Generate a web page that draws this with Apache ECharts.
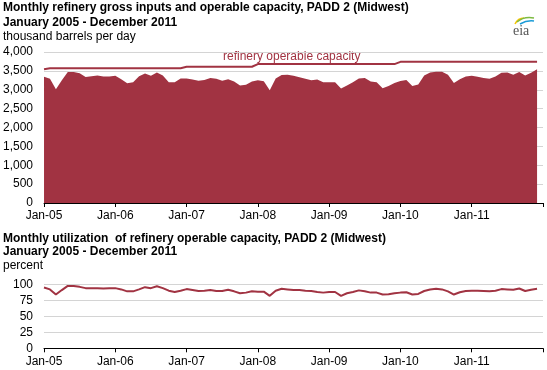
<!DOCTYPE html>
<html>
<head>
<meta charset="utf-8">
<script src="https://cdn.jsdelivr.net/npm/echarts@6/dist/echarts.min.js"></script>
<style>html,body{margin:0;padding:0;background:#fff;}#c{width:547px;height:370px;}</style>
</head>
<body>
<div id="c"></div>
<script>
// Month categories Jan-05 .. Jan-12 (Jan-12 is the axis end only)
const years = ['05','06','07','08','09','10','11'];
const months = [];
years.forEach(y => { for (let m = 0; m < 12; m++) months.push(['Jan','Feb','Mar','Apr','May','Jun','Jul','Aug','Sep','Oct','Nov','Dec'][m] + '-' + y); });
months.push('Jan-12');

// thousand barrels per day
const grossInputs = [
  3346,3290,3010,3250,3470,3470,3440,3340,3360,3380,3350,3350,
  3370,3280,3170,3200,3360,3430,3370,3460,3380,3200,3200,3300,
  3300,3270,3240,3260,3310,3290,3240,3280,3220,3110,3130,3220,
  3250,3225,2990,3300,3390,3400,3370,3330,3290,3250,3270,3200,
  3200,3200,3030,3110,3200,3300,3310,3220,3200,3040,3100,3180,
  3230,3260,3100,3140,3380,3460,3480,3480,3400,3180,3280,3350,
  3370,3345,3310,3290,3350,3450,3460,3400,3470,3380,3450,3540
];
const operableCapacity = [
  3545,3570,3570,3570,3570,3570,3570,3570,3570,3570,3570,3570,
  3570,3570,3570,3570,3570,3570,3570,3570,3570,3570,3570,3570,
  3610,3610,3610,3610,3610,3610,3610,3610,3610,3610,3610,3610,
  3680,3680,3680,3680,3680,3680,3680,3680,3680,3680,3680,3680,
  3680,3680,3680,3680,3680,3680,3680,3680,3680,3680,3680,3680,
  3740,3740,3740,3740,3740,3740,3740,3740,3740,3740,3740,3740,
  3740,3740,3740,3740,3740,3740,3740,3740,3740,3740,3740,3740
];
// percent
const utilization = [
  95,92,84,91,97.5,97.5,96,94,94,94,93.5,94,
  94,92,89,89,92,95.5,94,97,94,90,88,90,
  92.5,91,89.5,90,91,89.5,89.5,91.5,89,86,87,89,
  88.5,88.5,82,90,93,92,91,91,90,89.5,88,87,
  88,88,82,86,88,90.5,89,87,87,84,84.5,86,
  87,87.5,84,85,89.5,92,93,92,89,84,87.5,89.5,
  90,90,89.5,89,90,92.5,92,91.5,93.5,89.5,91.5,93
];
const topTicks = [0,500,1000,1500,2000,2500,3000,3500,4000];
const bottomTicks = [0,25,50,75,100];

const FONT = '"Liberation Sans", Arial, sans-serif';
const RED = '#a13342';
const chart = echarts.init(document.getElementById('c'), null, {renderer:'canvas'});

function xAxisCfg(gridIndex){
  return {
    type:'category', gridIndex, data: months, boundaryGap:false,
    axisLine:{lineStyle:{color:'#000', width:1}},
    axisTick:{show:true, length:4, lineStyle:{color:'#000'}, interval:(i)=> i % 12 === 0},
    axisLabel:{interval:(i)=> i % 12 === 0 && i < 84, color:'#000', fontFamily:FONT, fontSize:12, margin:7},
    splitLine:{show:false}
  };
}
function yAxisCfg(gridIndex, ticks, fmt){
  return {
    type:'value', gridIndex, min:ticks[0], max:ticks[ticks.length-1], interval:ticks[1]-ticks[0],
    axisLine:{show:false}, axisTick:{show:false},
    axisLabel:{color:'#000', fontFamily:FONT, fontSize:12, margin:11, formatter:fmt},
    splitLine:{lineStyle:{color:'#d4d4d4', width:1}}
  };
}

chart.setOption({
  animation:false,
  grid:[
    {left:44, right:4, top:52, height:151},
    {left:44, right:4, top:284.3, height:64}
  ],
  xAxis:[xAxisCfg(0), xAxisCfg(1)],
  yAxis:[
    yAxisCfg(0, topTicks, v => v.toLocaleString('en-US')),
    yAxisCfg(1, bottomTicks, v => String(v))
  ],
  series:[
    {type:'line', name:'refinery gross inputs', xAxisIndex:0, yAxisIndex:0, data:grossInputs,
     showSymbol:false, lineStyle:{width:0}, areaStyle:{color:RED, opacity:1}, z:2},
    {type:'line', name:'refinery operable capacity', xAxisIndex:0, yAxisIndex:0, data:operableCapacity,
     showSymbol:false, lineStyle:{width:2, color:RED}, z:3},
    {type:'line', name:'utilization', xAxisIndex:1, yAxisIndex:1, data:utilization,
     showSymbol:false, lineStyle:{width:2, color:RED}, z:3}
  ],
  graphic:[
    {type:'text', x:3, y:8, style:{text:'Monthly refinery gross inputs and operable capacity, PADD 2 (Midwest)', font:'bold 12px '+FONT, fill:'#000', textVerticalAlign:'middle'}},
    {type:'text', x:3, y:23, style:{text:'January 2005 - December 2011', font:'bold 12px '+FONT, fill:'#000', textVerticalAlign:'middle'}},
    {type:'text', x:3, y:37, style:{text:'thousand barrels per day', font:'12px '+FONT, fill:'#000', textVerticalAlign:'middle'}},
    {type:'text', x:223, y:57, style:{text:'refinery operable capacity', font:'12px '+FONT, fill:RED, textVerticalAlign:'middle'}},
    {type:'text', x:239, y:159, style:{text:'refinery gross inputs', font:'12px '+FONT, fill:'#fff', textVerticalAlign:'middle'}},
    {type:'text', x:3, y:239, style:{text:'Monthly utilization  of refinery operable capacity, PADD 2 (Midwest)', font:'bold 12px '+FONT, fill:'#000', textVerticalAlign:'middle'}},
    {type:'text', x:3, y:252, style:{text:'January 2005 - December 2011', font:'bold 12px '+FONT, fill:'#000', textVerticalAlign:'middle'}},
    {type:'text', x:3, y:266, style:{text:'percent', font:'12px '+FONT, fill:'#000', textVerticalAlign:'middle'}},
    // eia logo
    {type:'bezierCurve', shape:{x1:515, y1:24, cpx1:518, cpy1:18, x2:524, y2:18}, style:{stroke:'#f5c400', lineWidth:1.5, fill:null}},
    {type:'bezierCurve', shape:{x1:517, y1:22, cpx1:524, cpy1:16, x2:534, y2:18}, style:{stroke:'#7dbb42', lineWidth:1.5, fill:null}},
    {type:'bezierCurve', shape:{x1:520, y1:24, cpx1:527, cpy1:20, x2:534, y2:21}, style:{stroke:'#1a9bd7', lineWidth:1.5, fill:null}},
    {type:'text', x:513, y:31, style:{text:'eia', font:'14px "Liberation Serif", serif', fill:'#555', textVerticalAlign:'middle'}}
  ]
});
</script>
</body>
</html>
